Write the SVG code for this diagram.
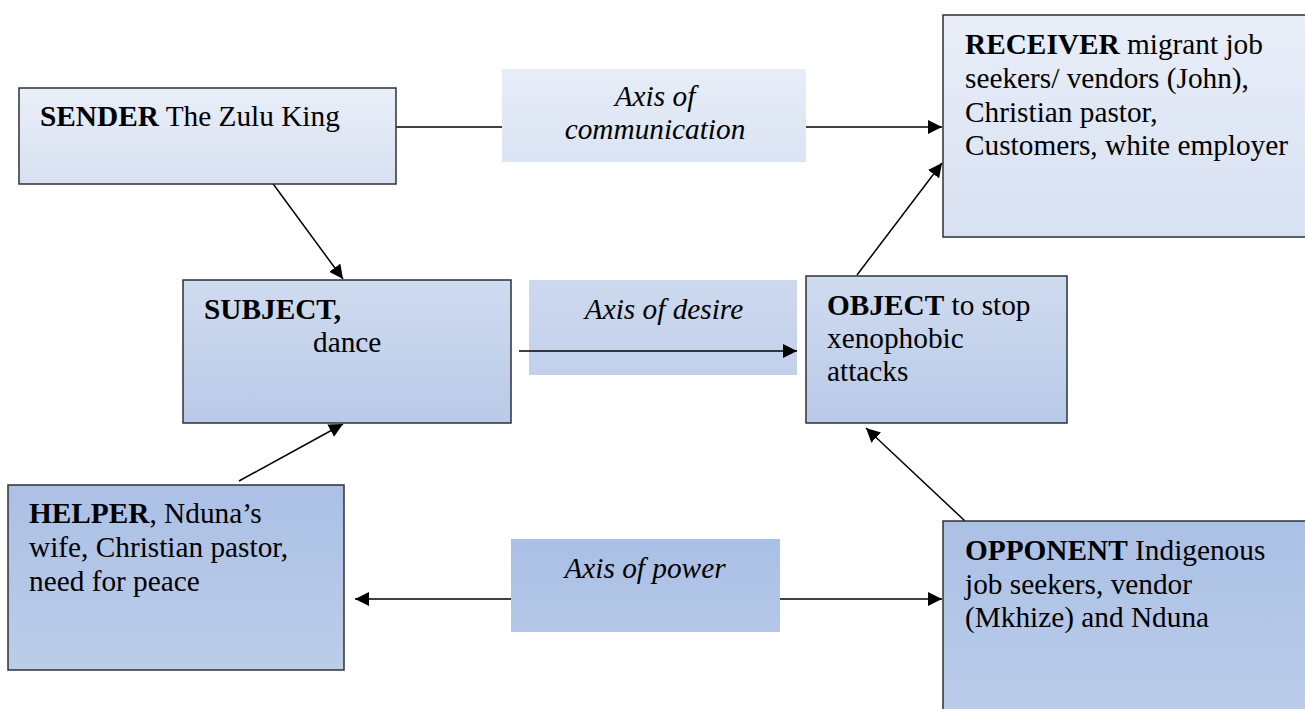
<svg xmlns="http://www.w3.org/2000/svg" width="1305" height="709" viewBox="0 0 1305 709">
  <style>
    .box { stroke: #2f3136; stroke-width: 1.5; }
    .t { font-family: "Liberation Serif", "Times New Roman", serif; font-size: 29.3px; fill: #000; }
    .b { font-weight: bold; }
    .ax { font-family: "Liberation Serif", "Times New Roman", serif; font-size: 29.3px; font-style: italic; fill: #000; text-anchor: middle; }
    .conn { stroke: #000; stroke-width: 1.5; fill: none; }
  </style>
  <defs>
    <linearGradient id="gPale" x1="0" y1="0" x2="0" y2="1">
      <stop offset="0" stop-color="#e9eef8"/>
      <stop offset="1" stop-color="#d8e1f2"/>
    </linearGradient>
    <linearGradient id="gMid" x1="0" y1="0" x2="0" y2="1">
      <stop offset="0" stop-color="#cfdbef"/>
      <stop offset="1" stop-color="#b9cae8"/>
    </linearGradient>
    <linearGradient id="gDeep" x1="0" y1="0" x2="0" y2="1">
      <stop offset="0" stop-color="#abc0e5"/>
      <stop offset="1" stop-color="#bccdea"/>
    </linearGradient>
    <linearGradient id="gAxisTop" x1="0" y1="0" x2="0" y2="1">
      <stop offset="0" stop-color="#e7edf8"/>
      <stop offset="1" stop-color="#dbe4f3"/>
    </linearGradient>
    <linearGradient id="gAxisMid" x1="0" y1="0" x2="0" y2="1">
      <stop offset="0" stop-color="#cdd9ee"/>
      <stop offset="1" stop-color="#c2d0ec"/>
    </linearGradient>
    <linearGradient id="gAxisLow" x1="0" y1="0" x2="0" y2="1">
      <stop offset="0" stop-color="#aabfe5"/>
      <stop offset="1" stop-color="#b4c7e8"/>
    </linearGradient>
    <marker id="arrow" viewBox="0 0 10 10" refX="10" refY="5" markerWidth="14" markerHeight="14" markerUnits="userSpaceOnUse" orient="auto">
      <path d="M0,0 L10,5 L0,10 Z" fill="#000"/>
    </marker>
  </defs>

  <rect width="1305" height="709" fill="#ffffff"/>

  <!-- axis label panels -->
  <g id="axis-communication">
    <rect x="502" y="69" width="304" height="93" fill="url(#gAxisTop)"/>
    <text class="ax" x="655" y="106">Axis of</text>
    <text class="ax" x="655" y="139">communication</text>
  </g>
  <g id="axis-desire">
    <rect x="529" y="280" width="268" height="95" fill="url(#gAxisMid)"/>
    <text class="ax" x="664" y="319">Axis of desire</text>
  </g>
  <g id="axis-power">
    <rect x="511" y="539" width="269" height="93" fill="url(#gAxisLow)"/>
    <text class="ax" x="645" y="578">Axis of power</text>
  </g>

  <!-- connectors -->
  <g id="connectors">
    <line class="conn" x1="396" y1="127" x2="502" y2="127"/>
    <line class="conn" x1="806" y1="127" x2="942" y2="127" marker-end="url(#arrow)"/>
    <line class="conn" x1="271" y1="181" x2="343" y2="279" marker-end="url(#arrow)"/>
    <line class="conn" x1="857" y1="275" x2="942" y2="163" marker-end="url(#arrow)"/>
    <line class="conn" x1="519" y1="351" x2="797" y2="351" marker-end="url(#arrow)"/>
    <line class="conn" x1="239" y1="481" x2="343" y2="424" marker-end="url(#arrow)"/>
    <line class="conn" x1="965" y1="521" x2="866" y2="428" marker-end="url(#arrow)"/>
    <line class="conn" x1="511" y1="599" x2="355" y2="599" marker-end="url(#arrow)"/>
    <line class="conn" x1="780" y1="599" x2="942" y2="599" marker-end="url(#arrow)"/>
  </g>

  <!-- actant boxes -->
  <g id="sender">
    <rect class="box" x="19" y="88" width="377" height="96" fill="url(#gPale)"/>
    <text class="t" x="40" y="126"><tspan class="b">SENDER</tspan> The Zulu King</text>
  </g>
  <g id="receiver">
    <rect class="box" x="943" y="15" width="370" height="222" fill="url(#gPale)"/>
    <text class="t" x="965" y="54"><tspan class="b">RECEIVER</tspan> migrant job</text>
    <text class="t" x="965" y="88">seekers/ vendors (John),</text>
    <text class="t" x="965" y="122">Christian pastor,</text>
    <text class="t" x="965" y="155">Customers, white employer</text>
  </g>
  <g id="subject">
    <rect class="box" x="183" y="280" width="328" height="143" fill="url(#gMid)"/>
    <text class="t b" x="204" y="319">SUBJECT,</text>
    <text class="t" x="313" y="352">dance</text>
  </g>
  <g id="object">
    <rect class="box" x="806" y="276" width="261" height="147" fill="url(#gMid)"/>
    <text class="t" x="827" y="315"><tspan class="b">OBJECT</tspan> to stop</text>
    <text class="t" x="827" y="348">xenophobic</text>
    <text class="t" x="827" y="381">attacks</text>
  </g>
  <g id="helper">
    <rect class="box" x="8" y="485" width="336" height="185" fill="url(#gDeep)"/>
    <text class="t" x="29" y="523"><tspan class="b">HELPER</tspan>, Nduna’s</text>
    <text class="t" x="29" y="557">wife, Christian pastor,</text>
    <text class="t" x="29" y="591">need for peace</text>
  </g>
  <g id="opponent">
    <rect class="box" x="943" y="521" width="370" height="200" fill="url(#gDeep)"/>
    <text class="t" x="965" y="560"><tspan class="b">OPPONENT</tspan> Indigenous</text>
    <text class="t" x="965" y="594">job seekers, vendor</text>
    <text class="t" x="965" y="627">(Mkhize) and Nduna</text>
  </g>
</svg>
